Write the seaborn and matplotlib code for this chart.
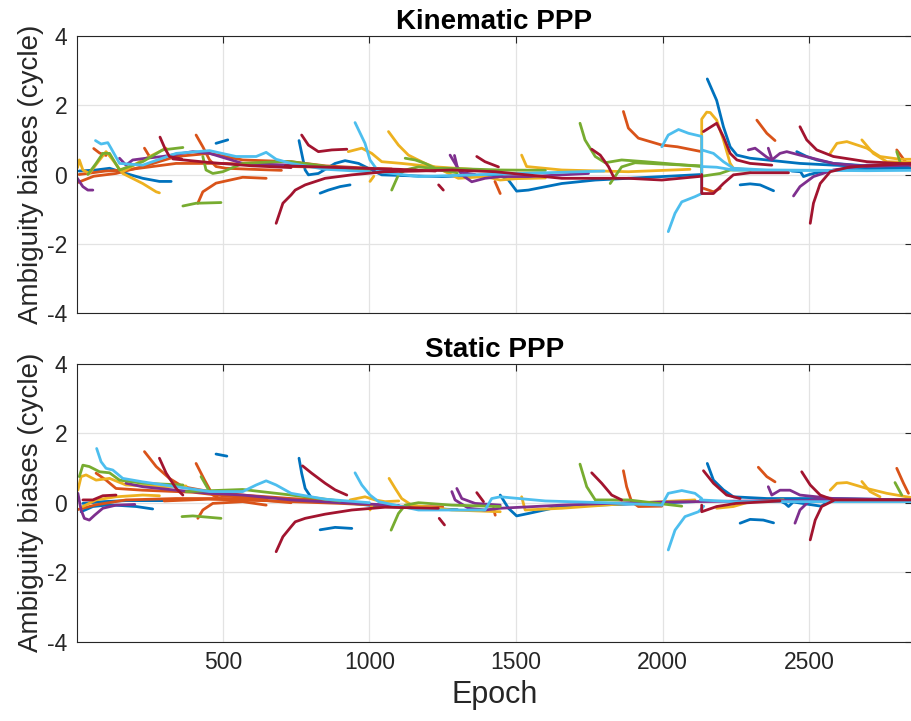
import matplotlib
matplotlib.use("Agg")
import matplotlib.pyplot as plt
import seaborn as sns
import pandas as pd

# ---------------- colours (MATLAB default order) ----------------
C_BLUE, C_ORANGE, C_YELLOW, C_PURPLE = "#0072BD", "#D95319", "#EDB120", "#7E2F8E"
C_GREEN, C_CYAN, C_RED = "#77AC30", "#4DBEEE", "#A2142F"

X_TICKS = [500, 1000, 1500, 2000, 2500]
Y_TICKS = [-4, -2, 0, 2, 4]
TITLES = ["Kinematic PPP", "Static PPP"]

# ---------------- Kinematic PPP segments: (epochs, biases) ----------------
KIN_BLUE = [
    ([10, 68, 114, 170, 227, 284, 324], [0.10, 0.13, 0.18, 0.03, -0.11, -0.20, -0.20]),
    ([477, 517], [0.90, 1.00]),
    ([760, 781, 792, 826, 883, 917, 963, 1008, 1042, 1150, 1247, 1340, 1440, 1474, 1502, 1542, 1656, 1770, 1883, 1997, 2133],
     [0.98, 0.13, -0.01, 0.03, 0.32, 0.40, 0.32, 0.13, -0.01, -0.04, -0.06, -0.03, 0.0, -0.16, -0.48, -0.45, -0.26, -0.16, -0.11, -0.06, 0.0]),
    ([832, 860, 900, 934], [-0.54, -0.45, -0.35, -0.30]),
    ([2152, 2184, 2207, 2230, 2253, 2298, 2355, 2468, 2582, 2696, 2847], [2.76, 2.14, 1.38, 0.80, 0.56, 0.47, 0.42, 0.32, 0.27, 0.23, 0.27]),
    ([2264, 2298, 2332, 2378], [-0.30, -0.27, -0.30, -0.47]),
    ([2457, 2491, 2525, 2582, 2696, 2847], [0.66, 0.52, 0.42, 0.32, 0.25, 0.20]),
    ([2440, 2470, 2480, 2500, 2540, 2600, 2700, 2847], [0.10, 0.08, -0.06, 0.0, 0.08, 0.13, 0.15, 0.18]),
]
KIN_ORANGE = [
    ([233, 250], [0.76, 0.52]),
    ([0, 60, 136, 227, 341, 455, 568, 733, 850, 1000, 1076], [-0.25, -0.05, 0.03, 0.23, 0.52, 0.61, 0.42, 0.37, 0.25, 0.18, 0.16]),
    ([10, 100, 170, 341, 511, 733, 900], [0.0, 0.10, 0.13, 0.32, 0.32, 0.23, 0.20]),
    ([409, 432, 455, 477, 511, 600, 700], [1.14, 0.80, 0.42, 0.23, 0.18, 0.15, 0.12]),
    ([415, 432, 477, 568, 648], [-0.83, -0.50, -0.25, -0.08, -0.11]),
    ([1428, 1446], [-0.20, -0.55]),
    ([1866, 1883, 1917, 1997, 2050, 2133], [1.82, 1.34, 1.05, 0.85, 0.80, 0.66]),
    ([2321, 2355, 2383], [1.57, 1.19, 0.98]),
    ([2798, 2832, 2847], [0.71, 0.32, 0.25]),
    ([2139, 2173, 2196], [-0.40, -0.50, -0.40]),
    ([60, 80, 102], [0.75, 0.62, 0.55]),
]
KIN_YELLOW = [
    ([5, 11, 23, 45, 80, 102, 125, 159, 227, 273, 284], [0.20, 0.42, 0.13, 0.03, 0.42, 0.66, 0.42, 0.03, -0.26, -0.50, -0.53]),
    ([159, 227, 284, 307], [0.08, 0.42, 0.66, 0.76]),
    ([928, 974, 1008, 1042, 1110, 1224, 1350], [0.66, 0.76, 0.61, 0.37, 0.32, 0.22, 0.15]),
    ([1065, 1099, 1133, 1190, 1247, 1303, 1394, 1446, 1500, 1600], [1.24, 0.85, 0.56, 0.32, 0.13, -0.11, -0.06, -0.16, -0.12, -0.10]),
    ([1002, 1015], [-0.20, -0.05]),
    ([1519, 1536, 1656, 1883, 2093], [0.56, 0.23, 0.13, 0.08, 0.15]),
    ([2133, 2133, 2150, 2162, 2184, 2207, 2230, 2241, 2300], [0.05, 1.60, 1.80, 1.79, 1.57, 1.00, 0.32, 0.18, 0.13]),
    ([2571, 2594, 2628, 2696, 2741, 2809, 2847], [0.61, 0.90, 0.95, 0.76, 0.52, 0.44, 0.44]),
    ([2679, 2718, 2764, 2847], [1.00, 0.61, 0.37, 0.35]),
]
KIN_PURPLE = [
    ([0, 23, 40, 57], [-0.06, -0.35, -0.45, -0.45]),
    ([148, 170, 193, 239, 295, 398, 455, 568, 733, 900, 1100], [0.47, 0.27, 0.42, 0.47, 0.52, 0.66, 0.61, 0.32, 0.27, 0.20, 0.12]),
    ([1275, 1292, 1315, 1349, 1394, 1446, 1542, 1747], [0.56, 0.32, -0.01, -0.21, -0.11, -0.06, -0.06, 0.03]),
    ([1290, 1300, 1320, 1360], [0.55, 0.20, 0.05, 0.0]),
    ([2292, 2315, 2355, 2372, 2400, 2423, 2468, 2582, 2696, 2847], [0.71, 0.76, 0.50, 0.42, 0.61, 0.66, 0.56, 0.32, 0.23, 0.27]),
    ([2446, 2468, 2514, 2582, 2696, 2847], [-0.62, -0.35, -0.06, 0.13, 0.27, 0.30]),
    ([2360, 2372], [0.76, 0.45]),
]
KIN_GREEN = [
    ([40, 68, 91, 114, 148, 227, 295, 364], [0.0, 0.32, 0.61, 0.61, 0.13, 0.37, 0.71, 0.78]),
    ([364, 409, 494], [-0.91, -0.83, -0.81]),
    ([432, 443, 466, 500, 568, 682, 733, 883, 1000], [0.52, 0.13, 0.03, 0.08, 0.32, 0.37, 0.37, 0.20, 0.10]),
    ([1076, 1099, 1122, 1167, 1213, 1258, 1446, 1600], [-0.45, -0.01, 0.13, 0.22, 0.18, 0.18, 0.13, 0.12]),
    ([1122, 1156, 1190, 1236, 1300], [0.47, 0.42, 0.32, 0.13, 0.05]),
    ([1718, 1735, 1770, 1804, 1860, 1940, 2133], [1.48, 1.00, 0.52, 0.34, 0.42, 0.37, 0.23]),
    ([1821, 1860, 1906, 2000, 2133], [-0.26, 0.22, 0.34, 0.30, 0.25]),
    ([2133, 2133, 2196, 2230, 2300], [0.23, -0.05, 0.03, 0.13, 0.13]),
    ([2798, 2809], [0.66, 0.37]),
]
KIN_CYAN = [
    ([66, 85, 108, 119, 148, 227, 341, 455, 545, 614, 648, 682, 733, 850, 1000],
     [0.98, 0.88, 0.92, 0.76, 0.32, 0.27, 0.61, 0.69, 0.52, 0.52, 0.64, 0.44, 0.32, 0.15, 0.08]),
    ([951, 985, 1002, 1031, 1167, 1394, 1600, 1800], [1.50, 0.90, 0.42, 0.08, -0.06, 0.0, 0.05, 0.10]),
    ([2019, 2042, 2065, 2110, 2133], [-1.65, -1.12, -0.79, -0.64, -0.55]),
    ([1997, 2019, 2054, 2088, 2133, 2133], [0.80, 1.14, 1.30, 1.19, 1.10, -0.55]),
    ([2133, 2173, 2207, 2241, 2355, 2696, 2847], [0.71, 0.61, 0.37, 0.18, 0.13, 0.11, 0.12]),
    ([2133, 2184, 2241, 2400, 2600], [0.23, 0.21, 0.13, 0.12, 0.12]),
]
KIN_RED = [
    ([286, 303, 318, 360], [1.08, 0.75, 0.52, 0.45]),
    ([330, 450, 600, 733], [0.45, 0.35, 0.25, 0.20]),
    ([682, 705, 733, 747, 781, 849, 940, 1053, 1167, 1281, 1429, 1656, 1883, 1997, 2133],
     [-1.41, -0.83, -0.59, -0.45, -0.30, -0.11, -0.01, 0.08, 0.10, 0.13, 0.08, -0.11, -0.11, -0.16, -0.05]),
    ([713, 900, 1100, 1225], [0.25, 0.20, 0.15, 0.10]),
    ([769, 792, 826, 872, 923], [1.14, 0.85, 0.66, 0.71, 0.73]),
    ([1236, 1252], [-0.30, -0.45]),
    ([1366, 1394, 1440], [0.52, 0.37, 0.22]),
    ([1758, 1787, 1815, 1832], [0.73, 0.56, 0.23, -0.06]),
    ([2139, 2184, 2207, 2230, 2253, 2298, 2372], [1.24, 1.48, 1.09, 0.61, 0.42, 0.32, 0.27]),
    ([2133, 2133, 2173, 2207, 2241, 2298, 2429], [0.0, -0.55, -0.55, -0.26, -0.01, 0.05, 0.05]),
    ([2468, 2491, 2525, 2582, 2696, 2847], [1.38, 1.00, 0.71, 0.52, 0.37, 0.30]),
    ([2503, 2514, 2537, 2571, 2639, 2847], [-1.41, -0.83, -0.26, 0.08, 0.22, 0.32]),
]

# ---------------- Static PPP segments: (epochs, biases) ----------------
STA_BLUE = [
    ([17, 57, 114, 205, 261], [-0.26, -0.11, -0.06, -0.11, -0.18]),
    ([23, 91, 170, 318], [-0.02, 0.03, 0.06, 0.06]),
    ([477, 514], [1.40, 1.34]),
    ([760, 769, 781, 803, 883, 997, 1167, 1300], [1.28, 0.85, 0.41, 0.13, 0.03, -0.07, -0.16, -0.20]),
    ([1446, 1474, 1502, 1542, 1656, 1883, 2110], [0.22, -0.16, -0.38, -0.31, -0.10, -0.04, 0.03]),
    ([832, 883, 940], [-0.78, -0.71, -0.74]),
    ([2152, 2173, 2207, 2241, 2355, 2582, 2847], [1.13, 0.65, 0.37, 0.17, 0.12, 0.12, 0.08]),
    ([2264, 2298, 2343, 2378], [-0.59, -0.48, -0.50, -0.58]),
    ([2400, 2417, 2429, 2445, 2500, 2540, 2560], [0.05, -0.02, -0.11, 0.02, -0.05, -0.10, 0.0]),
]
STA_ORANGE = [
    ([233, 273, 318, 364, 455, 568, 733, 900], [1.47, 1.04, 0.70, 0.46, 0.32, 0.22, 0.12, 0.05]),
    ([409, 438, 466, 489, 600], [1.13, 0.65, 0.22, 0.12, 0.10]),
    ([415, 432, 466, 568, 648], [-0.45, -0.21, -0.02, 0.03, -0.07]),
    ([0, 68, 170, 341, 489, 733, 900, 1100, 1250], [-0.21, -0.06, 0.08, 0.12, 0.12, 0.03, -0.02, -0.10, -0.12]),
    ([68, 102, 136, 227, 400, 500, 650], [0.85, 0.65, 0.41, 0.36, 0.30, 0.20, 0.10]),
    ([300, 450, 550, 650, 733], [0.05, 0.10, 0.08, 0.06, 0.0]),
    ([1423, 1429], [-0.16, -0.36]),
    ([1866, 1877, 1894, 1917, 1997], [0.92, 0.46, 0.03, -0.11, -0.10]),
    ([2326, 2355, 2383], [1.02, 0.75, 0.60]),
    ([2798, 2821, 2838], [0.99, 0.56, 0.27]),
]
STA_YELLOW = [
    ([6, 17, 34, 68, 114, 170, 284, 375], [0.36, 0.75, 0.80, 0.65, 0.70, 0.51, 0.46, 0.48]),
    ([23, 68, 136, 227, 284], [-0.11, 0.08, 0.17, 0.22, 0.20]),
    ([934, 985, 1019, 1053, 1100], [0.08, 0.17, 0.08, 0.03, 0.05]),
    ([1067, 1088, 1110, 1144, 1281, 1446], [0.70, 0.41, 0.12, -0.07, -0.21, -0.26]),
    ([1002, 1010], [-0.21, -0.05]),
    ([1519, 1531, 1656, 1883, 2110], [0.17, -0.21, -0.16, -0.02, 0.08]),
    ([2184, 2241, 2298, 2412], [-0.16, -0.11, 0.03, 0.08]),
    ([2571, 2594, 2628, 2696, 2764, 2832, 2847], [0.36, 0.56, 0.58, 0.41, 0.27, 0.17, 0.15]),
    ([2679, 2707, 2741], [0.61, 0.32, 0.17]),
]
STA_PURPLE = [
    ([6, 17, 28, 45, 63, 91, 136, 200], [0.27, -0.21, -0.45, -0.50, -0.36, -0.16, -0.07, -0.05]),
    ([170, 227, 341, 455, 568, 733, 900, 1100], [0.56, 0.46, 0.36, 0.27, 0.22, 0.08, 0.0, -0.08]),
    ([1281, 1292, 1338, 1394, 1446, 1656, 1883, 2100, 2400, 2847], [0.32, 0.08, -0.16, -0.21, -0.16, -0.07, 0.0, 0.03, 0.06, 0.06]),
    ([1298, 1315, 1360, 1446], [0.41, 0.12, -0.02, -0.07]),
    ([2360, 2372, 2400, 2434, 2468, 2582, 2847], [0.46, 0.22, 0.36, 0.36, 0.22, 0.12, 0.08]),
    ([2451, 2468, 2503, 2582], [-0.59, -0.21, 0.08, 0.12]),
]
STA_GREEN = [
    ([11, 23, 45, 80, 114, 148, 227, 364], [0.75, 1.08, 1.04, 0.89, 0.86, 0.65, 0.56, 0.51]),
    ([375, 568, 733, 900], [0.32, 0.38, 0.22, 0.05]),
    ([361, 398, 494], [-0.40, -0.38, -0.45]),
    ([426, 449], [0.75, 0.41]),
    ([1074, 1099, 1122, 1167, 1281, 1446], [-0.79, -0.31, -0.07, 0.0, -0.07, -0.11]),
    ([1718, 1741, 1770, 1883, 2065], [1.11, 0.46, 0.08, 0.08, -0.10]),
    ([2792, 2815], [0.58, 0.22]),
]
STA_CYAN = [
    ([70, 85, 102, 125, 159, 227, 341, 455, 568, 614, 648, 682, 733, 850, 1000],
     [1.56, 1.18, 0.99, 0.94, 0.70, 0.60, 0.46, 0.32, 0.32, 0.51, 0.63, 0.51, 0.27, 0.10, 0.0]),
    ([951, 974, 1002, 1031, 1167, 1394, 1417, 1446, 1600, 1800, 1997], [0.86, 0.51, 0.22, 0.03, -0.21, -0.21, 0.12, 0.17, 0.05, 0.0, -0.07]),
    ([1997, 2019, 2065, 2110, 2133], [-0.07, 0.27, 0.35, 0.27, 0.12]),
    ([2019, 2042, 2076, 2122, 2140], [-1.36, -0.79, -0.40, -0.26, -0.10]),
    ([2128, 2241, 2582, 2847], [0.08, 0.03, 0.03, 0.03]),
]
STA_RED = [
    ([284, 307, 341, 364], [1.28, 0.85, 0.41, 0.22]),
    ([23, 57, 91, 136], [0.08, 0.08, 0.20, 0.22]),
    ([682, 705, 733, 747, 781, 849, 940, 1053, 1235], [-1.41, -0.98, -0.69, -0.55, -0.45, -0.33, -0.21, -0.13, -0.16]),
    ([772, 803, 849, 883, 923], [1.06, 0.85, 0.56, 0.37, 0.22]),
    ([1238, 1256], [-0.45, -0.64]),
    ([1366, 1389], [0.29, 0.03]),
    ([1758, 1792, 1826, 1860], [0.86, 0.56, 0.22, 0.08]),
    ([2133, 2133, 2184, 2250, 2400], [-0.07, -0.26, -0.11, -0.02, 0.05]),
    ([2139, 2173, 2218, 2264], [0.92, 0.56, 0.22, 0.12]),
    ([2474, 2503, 2537, 2582, 2847], [0.89, 0.51, 0.22, 0.08, 0.08]),
    ([2503, 2520, 2542, 2582], [-1.07, -0.50, -0.11, 0.06]),
]

PANELS = [
    [(KIN_BLUE, C_BLUE), (KIN_ORANGE, C_ORANGE), (KIN_YELLOW, C_YELLOW), (KIN_PURPLE, C_PURPLE),
     (KIN_GREEN, C_GREEN), (KIN_CYAN, C_CYAN), (KIN_RED, C_RED)],
    [(STA_BLUE, C_BLUE), (STA_ORANGE, C_ORANGE), (STA_YELLOW, C_YELLOW), (STA_PURPLE, C_PURPLE),
     (STA_GREEN, C_GREEN), (STA_CYAN, C_CYAN), (STA_RED, C_RED)],
]

# ---------------- styling ----------------
sns.set_theme(style="white")
plt.rcParams["font.family"] = ["Liberation Sans", "DejaVu Sans"]
plt.rcParams["axes.unicode_minus"] = False
plt.rcParams["lines.solid_joinstyle"] = "round"
plt.rcParams["lines.solid_capstyle"] = "round"

fig = plt.figure(figsize=(9.11, 7.21), dpi=100)
ax_top = fig.add_axes([77 / 911, 1 - 313 / 721, (912 - 77) / 911, (313 - 36) / 721])
ax_bot = fig.add_axes([77 / 911, 1 - 641.7 / 721, (912 - 77) / 911, (641.7 - 363.7) / 721])

for pi, (ax, groups) in enumerate(zip([ax_top, ax_bot], PANELS)):
    rows, pal = [], {}
    k = 0
    for segs, col in groups:
        for xs, ys in segs:
            sid = f"p{pi}s{k}"
            pal[sid] = col
            for x, y in zip(xs, ys):
                rows.append({"seg": sid, "epoch": x, "value": y})
            k += 1
    df = pd.DataFrame(rows)
    sns.lineplot(data=df, x="epoch", y="value", hue="seg", palette=pal, estimator=None,
                 sort=False, legend=False, linewidth=2.0, ax=ax)

    ax.set_xlim(3, 2850)
    ax.set_ylim(-4, 4)
    ax.set_xticks(X_TICKS)
    ax.set_yticks(Y_TICKS)
    ax.grid(True, color="#e3e3e3", linewidth=0.9)
    ax.set_axisbelow(True)
    ax.tick_params(direction="in", length=5, width=0.8, top=True, right=True,
                   labelsize=16.5, colors="#262626", pad=7)
    for sp in ax.spines.values():
        sp.set_color("#262626")
        sp.set_linewidth(0.8)
    ax.set_ylabel("Ambiguity biases (cycle)", fontsize=20, color="#262626", labelpad=2)
    ax.set_title(TITLES[pi], fontsize=20, fontweight="bold", color="black", pad=5)

ax_top.set_xticklabels([])
ax_top.set_xlabel("")
ax_bot.set_xticklabels([str(t) for t in X_TICKS])
ax_bot.set_xlabel("Epoch", fontsize=22, color="#262626", labelpad=4)

fig.savefig("out.png", dpi=100)
